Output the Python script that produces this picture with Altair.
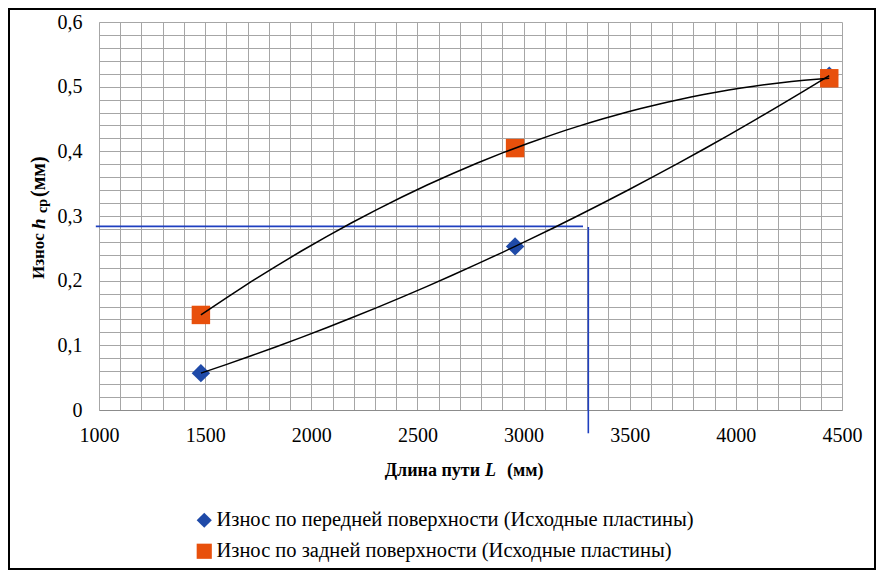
import altair as alt
import pandas as pd

# ---- data ----
path_len = [1480, 2960, 4440]
front_wear = [0.057, 0.253, 0.517]
back_wear = [0.147, 0.405, 0.513]
series_names = [
    "Износ по передней поверхности (Исходные пластины)",
    "Износ по задней поверхности (Исходные пластины)",
]
series_colors = ["#1F4AA8", "#E8500C"]
series_shapes = ["diamond", "square"]

# blue reference lines
h_line_x = [985, 3280]
h_line_y = [0.284]
v_line_x = [3305]
v_line_y = [0.283, -0.036]

x_grid = list(range(1000, 4501, 100))
y_grid = [round(i * 0.02, 2) for i in range(31)]

W, H = 743, 388
PAD = {"left": 91, "top": 14, "right": 34, "bottom": 160}
SERIF = "Liberation Serif"

pts = pd.DataFrame(
    {
        "L": path_len * 2,
        "h": front_wear + back_wear,
        "series": [series_names[0]] * 3 + [series_names[1]] * 3,
    }
)
rules = pd.DataFrame(
    {
        "L": [h_line_x[0], v_line_x[0]],
        "L2": [h_line_x[1], v_line_x[0]],
        "h": [h_line_y[0], v_line_y[0]],
        "h2": [h_line_y[0], v_line_y[1]],
    }
)
one = pd.DataFrame({"a": [0]})

x_axis = alt.Axis(
    values=x_grid,
    labelExpr="datum.value % 500 == 0 ? format(datum.value, 'd') : ''",
    ticks=False,
    grid=True,
    gridColor="#A6A6A6",
    gridWidth=1,
    domainColor="#8C8C8C",
    domainWidth=1.2,
    labelFont=SERIF,
    labelFontSize=20,
    labelColor="black",
    labelPadding=15,
    labelOverlap=False,
    labelFlush=False,
    title=None,
)
y_axis = alt.Axis(
    values=y_grid,
    labelExpr="datum.value == 0 ? '0' : (abs(datum.value*10 - round(datum.value*10)) < 0.001 ? replace(format(datum.value, '.1f'), '.', ',') : '')",
    ticks=False,
    grid=True,
    gridColor="#A6A6A6",
    gridWidth=1,
    domainColor="#A6A6A6",
    labelFont=SERIF,
    labelFontSize=20,
    labelColor="black",
    labelPadding=17,
    labelOverlap=False,
    labelFlush=False,
    title=None,
)
xs = alt.Scale(domain=[1000, 4500], nice=False, zero=False)
ys = alt.Scale(domain=[0, 0.6], nice=False, zero=False)

legend = alt.Legend(
    title=None,
    orient="none",
    legendX=95,
    legendY=488,
    direction="vertical",
    labelFont=SERIF,
    labelFontSize=20.5,
    labelColor="black",
    labelLimit=0,
    symbolSize=230,
    symbolStrokeWidth=0,
    labelOffset=2,
    rowPadding=10,
    padding=0,
)

points = alt.Chart(pts).mark_point(filled=True, size=340, opacity=1).encode(
    x=alt.X("L:Q", scale=xs, axis=x_axis),
    y=alt.Y("h:Q", scale=ys, axis=y_axis),
    color=alt.Color("series:N", scale=alt.Scale(domain=series_names, range=series_colors), legend=legend),
    shape=alt.Shape("series:N", scale=alt.Scale(domain=series_names, range=series_shapes), legend=legend),
)

curves = (
    alt.Chart(pts)
    .transform_regression("L", "h", method="poly", order=2, groupby=["series"])
    .mark_line(color="black", strokeWidth=1.5)
    .encode(x=alt.X("L:Q", scale=xs, axis=x_axis), y=alt.Y("h:Q", scale=ys, axis=y_axis), detail="series:N")
)

blue = alt.Chart(rules).mark_rule(color="#1F3FBF", strokeWidth=1.6).encode(
    x=alt.X("L:Q", scale=xs, axis=x_axis),
    x2="L2:Q",
    y=alt.Y("h:Q", scale=ys, axis=y_axis),
    y2="h2:Q",
)


def txt(s, x, y, size=18, style="normal", angle=0, align="left", weight="bold"):
    kw = dict(text=s, font=SERIF, fontSize=size, fontWeight=weight, fontStyle=style,
              align=align, baseline="middle", color="black")
    if angle:
        kw["angle"] = angle
    return alt.Chart(one).mark_text(**kw).encode(x=alt.value(x), y=alt.value(y))


# x-axis title: "Длина пути L (мм)"
xt1 = txt("Длина пути", 381, 449, align="right")
xt2 = txt("L", 386, 449, style="italic")
xt3 = txt("(мм)", 408, 449)
# y-axis title: "Износ h_ср(мм)"
yt1 = txt("Износ", -60, 257, size=17, angle=270)
yt2 = txt("h", -60, 207, size=19, style="italic", angle=270)
yt3 = txt("ср", -56, 191, size=14, angle=270)
yt4 = txt("(мм)", -60, 175, size=20, angle=270)

border = alt.Chart(one).mark_rect(fillOpacity=0, stroke="black", strokeWidth=2).encode(
    x=alt.value(-90), x2=alt.value(W + PAD["right"] - 1),
    y=alt.value(-13), y2=alt.value(H + PAD["bottom"] - 1),
)

chart = (
    alt.layer(points, blue, curves, xt1, xt2, xt3, yt1, yt2, yt3, yt4, border)
    .properties(width=W, height=H, padding=PAD, autosize="none", background="white")
    .configure_view(stroke=None)
)

chart.save("out.html", embed_options={"renderer": "svg", "actions": False})
